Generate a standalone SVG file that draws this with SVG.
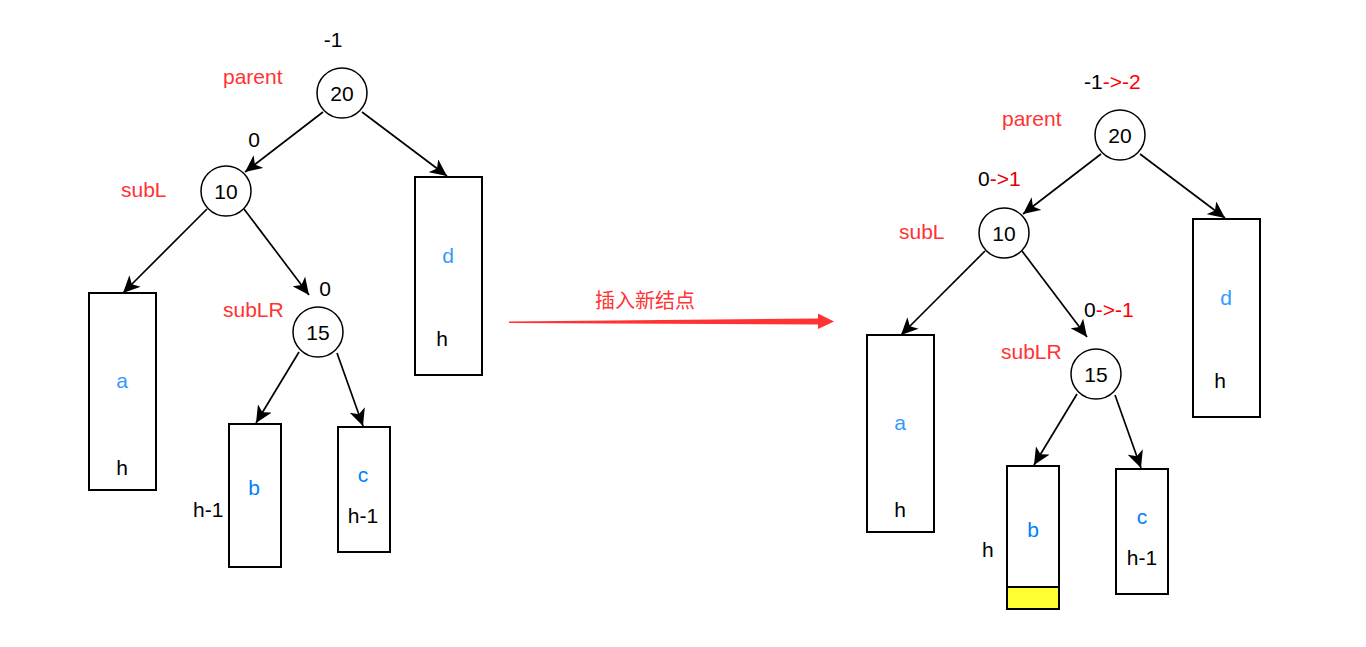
<svg xmlns="http://www.w3.org/2000/svg" width="1366" height="647" viewBox="0 0 1366 647">
  <style>
    text { font-family: "Liberation Sans", Arial, "Noto Sans CJK SC", sans-serif; font-size: 21px; }
    .cjk { font-size: 20px; }
    .mid { text-anchor: middle; }
    .k { fill: #000000; }
    .lbl { fill: #FF3333; }
    .chg { fill: #FF0000; }
    .blue { fill: #007FFF; }
    .lblue { fill: #3399FF; }
    .node { fill: #FFFFFF; stroke: #000000; stroke-width: 1.5; }
    .box { fill: #FFFFFF; stroke: #000000; stroke-width: 2; }
    .edge { fill: none; stroke: #000000; stroke-width: 1.7; marker-end: url(#arrow); }
  </style>
  <defs>
    <marker id="arrow" markerUnits="userSpaceOnUse" markerWidth="18" markerHeight="16" viewBox="0 0 18 16" refX="17" refY="8" orient="auto">
      <path d="M0,0 L17,8 L0,16 L4.5,8 Z" fill="#000000"/>
    </marker>
  </defs>
  <rect width="1366" height="647" fill="#FFFFFF"/>

  <!-- before insertion -->
  <g id="left-edges">
    <line class="edge" x1="323" y1="112" x2="245" y2="172"/>
    <line class="edge" x1="362" y1="112" x2="447" y2="176"/>
    <line class="edge" x1="207" y1="209" x2="123" y2="293"/>
    <line class="edge" x1="244" y1="209" x2="309" y2="295"/>
    <line class="edge" x1="299" y1="352" x2="256" y2="423"/>
    <line class="edge" x1="337" y1="353" x2="363" y2="426"/>
  </g>
  <g id="left-n20">
    <circle class="node" cx="342" cy="93" r="25"/>
    <text class="mid k" x="342" y="101">20</text>
    <text class="mid k" x="333" y="47">-1</text>
    <text class="lbl" x="223" y="84">parent</text>
  </g>
  <g id="left-n10">
    <circle class="node" cx="226" cy="191" r="25"/>
    <text class="mid k" x="226" y="199">10</text>
    <text class="mid k" x="254" y="147">0</text>
    <text class="lbl" x="121" y="197">subL</text>
  </g>
  <g id="left-n15">
    <circle class="node" cx="318" cy="332" r="25"/>
    <text class="mid k" x="318" y="340">15</text>
    <text class="mid k" x="325" y="296">0</text>
    <text class="lbl" x="223" y="317">subLR</text>
  </g>
  <g id="left-a">
    <rect class="box" x="89" y="293" width="67" height="197"/>
    <text class="mid lblue" x="122" y="388">a</text>
    <text class="mid k" x="122" y="475">h</text>
  </g>
  <g id="left-b">
    <rect class="box" x="229" y="424" width="52" height="143"/>
    <text class="mid blue" x="254" y="495">b</text>
    <text class="k" x="193" y="517">h-1</text>
  </g>
  <g id="left-c">
    <rect class="box" x="338" y="427" width="52" height="125"/>
    <text class="mid blue" x="363" y="482">c</text>
    <text class="mid k" x="363" y="523">h-1</text>
  </g>
  <g id="left-d">
    <rect class="box" x="415" y="177" width="67" height="198"/>
    <text class="mid lblue" x="448" y="263">d</text>
    <text class="mid k" x="442" y="346">h</text>
  </g>

  <!-- transition arrow -->
  <g id="insert-arrow">
    <polygon points="509,321.5 818,318.5 818,313.5 834,321.5 818,329 818,324.5 509,323" fill="#FF3333"/>
    <text class="lbl cjk" x="595" y="308">插入新结点</text>
  </g>

  <!-- after insertion -->
  <g id="right-edges">
    <line class="edge" x1="1101" y1="154" x2="1023" y2="214"/>
    <line class="edge" x1="1140" y1="154" x2="1225" y2="218"/>
    <line class="edge" x1="985" y1="251" x2="901" y2="335"/>
    <line class="edge" x1="1022" y1="251" x2="1087" y2="337"/>
    <line class="edge" x1="1077" y1="394" x2="1034" y2="465"/>
    <line class="edge" x1="1115" y1="395" x2="1141" y2="468"/>
  </g>
  <g id="right-n20">
    <circle class="node" cx="1120" cy="135" r="25"/>
    <text class="mid k" x="1120" y="143">20</text>
    <text class="k" x="1084" y="89">-1<tspan class="chg">-&gt;-2</tspan></text>
    <text class="lbl" x="1002" y="126">parent</text>
  </g>
  <g id="right-n10">
    <circle class="node" cx="1004" cy="233" r="25"/>
    <text class="mid k" x="1004" y="241">10</text>
    <text class="k" x="978" y="186">0<tspan fill="#E00000">-&gt;1</tspan></text>
    <text class="lbl" x="899" y="239">subL</text>
  </g>
  <g id="right-n15">
    <circle class="node" cx="1096" cy="374" r="25"/>
    <text class="mid k" x="1096" y="382">15</text>
    <text class="k" x="1084" y="317">0<tspan class="chg">-&gt;-1</tspan></text>
    <text class="lbl" x="1001" y="359">subLR</text>
  </g>
  <g id="right-a">
    <rect class="box" x="867" y="335" width="67" height="197"/>
    <text class="mid lblue" x="900" y="430">a</text>
    <text class="mid k" x="900" y="517">h</text>
  </g>
  <g id="right-b">
    <rect class="box" x="1007" y="466" width="52" height="143"/>
    <rect x="1007" y="587" width="52" height="22" fill="#FFFF33" stroke="#000000" stroke-width="2"/>
    <text class="mid blue" x="1033" y="537">b</text>
    <text class="k" x="982" y="557">h</text>
  </g>
  <g id="right-c">
    <rect class="box" x="1116" y="469" width="52" height="125"/>
    <text class="mid blue" x="1142" y="524">c</text>
    <text class="mid k" x="1142" y="565">h-1</text>
  </g>
  <g id="right-d">
    <rect class="box" x="1193" y="219" width="67" height="198"/>
    <text class="mid lblue" x="1226" y="305">d</text>
    <text class="mid k" x="1220" y="388">h</text>
  </g>
</svg>
